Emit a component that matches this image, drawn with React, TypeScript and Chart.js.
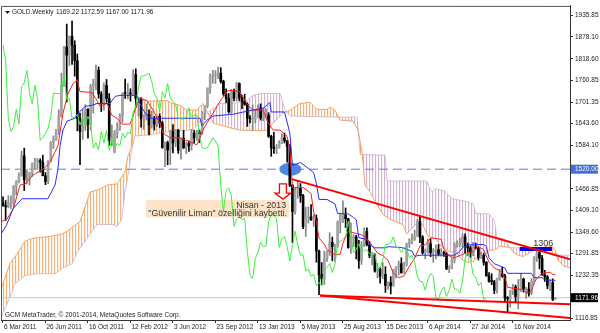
import React, { useEffect, useRef } from "react";
import { Chart, registerables } from "chart.js";

Chart.register(...registerables);

// ---- weekly candles (bar index 0 = 6 Mar 2011) ----
const opens = [1428,1421,1418,1429,1430,1474,1486,1504,1556,1491,1493,1511,1536,1542,1543,1539,1502,1486,1542,1593,1601,1627,1663,1744,1851,1829,1880,1856,1814,1657,1622,1636,1682,1642,1744,1754,1788,1724,1697,1747,1711,1598,1566,1617,1631,1664,1726,1725,1725,1724,1776,1711,1711,1657,1662,1668,1640,1658,1642,1663,1645,1578,1592,1572,1622,1591,1625,1571,1604,1578,1590,1584,1618,1605,1620,1616,1673,1692,1740,1772,1773,1776,1780,1758,1724,1712,1676,1730,1713,1752,1713,1704,1696,1658,1656,1656,1662,1686,1658,1667,1667,1609,1578,1576,1578,1591,1605,1597,1581,1476,1405,1462,1469,1448,1365,1386,1391,1383,1387,1298,1234,1223,1278,1295,1322,1310,1312,1377,1396,1396,1386,1308,1332,1337,1310,1272,1315,1352,1315,1287,1288,1244,1250,1230,1235,1205,1213,1204,1248,1254,1264,1240,1262,1318,1324,1330,1339,1379,1336,1294,1303,1318,1294,1300,1302,1290,1293,1292,1250,1252,1274,1316,1316,1320,1337,1310,1307,1294,1309,1306,1280,1287,1268,1231,1216,1215,1192,1222,1237,1231,1171,1169,1190,1201,1175,1191,1222,1195,1195,1184,1216,1277,1294,1279,1234,1228,1204,1213,1169.22];
const highs = [1445,1435,1448,1448,1476,1489,1510,1569,1577,1519,1512,1537,1550,1549,1548,1558,1511,1543,1595,1610,1628,1681,1780,1853,1913,1881,1921,1868,1832,1672,1682,1695,1684,1750,1764,1802,1797,1730,1754,1763,1725,1640,1625,1646,1670,1727,1764,1752,1738,1790,1792,1715,1714,1667,1697,1681,1677,1663,1665,1670,1650,1594,1596,1626,1641,1628,1628,1605,1625,1593,1597,1628,1625,1625,1626,1676,1692,1740,1778,1788,1787,1796,1795,1761,1738,1725,1736,1737,1755,1754,1720,1723,1700,1665,1694,1678,1694,1697,1685,1684,1673,1612,1620,1587,1597,1616,1618,1598,1587,1479,1470,1488,1481,1452,1417,1418,1424,1397,1396,1301,1267,1298,1298,1348,1336,1317,1380,1401,1434,1415,1387,1375,1343,1341,1327,1324,1361,1361,1324,1294,1291,1265,1254,1267,1256,1215,1229,1249,1256,1271,1280,1268,1320,1332,1345,1355,1384,1392,1340,1304,1331,1331,1305,1315,1316,1305,1298,1295,1258,1280,1321,1326,1333,1345,1345,1320,1312,1322,1320,1310,1296,1292,1270,1240,1237,1219,1225,1249,1255,1236,1175,1192,1208,1206,1221,1238,1225,1200,1213,1224,1283,1307,1300,1287,1246,1232,1220,1223,1172.59];
const lows = [1420,1381,1416,1413,1418,1450,1483,1501,1462,1480,1477,1500,1521,1522,1512,1505,1478,1481,1540,1576,1598,1614,1661,1744,1702,1801,1804,1772,1624,1532,1601,1625,1604,1626,1672,1735,1712,1676,1680,1701,1585,1583,1564,1604,1625,1647,1712,1710,1704,1721,1688,1664,1634,1628,1653,1613,1631,1626,1635,1633,1577,1527,1532,1533,1564,1581,1563,1547,1576,1562,1568,1572,1591,1598,1592,1614,1654,1686,1725,1753,1752,1765,1753,1720,1700,1672,1672,1705,1705,1705,1684,1693,1636,1645,1625,1645,1661,1653,1651,1660,1606,1555,1563,1562,1577,1589,1591,1539,1473,1321,1398,1441,1430,1359,1338,1374,1381,1365,1268,1180,1207,1208,1270,1286,1272,1270,1307,1347,1375,1362,1306,1292,1311,1277,1251,1262,1310,1312,1280,1261,1241,1226,1211,1223,1186,1195,1182,1203,1225,1233,1238,1238,1258,1308,1318,1327,1338,1321,1290,1277,1292,1283,1268,1277,1285,1284,1284,1248,1240,1250,1266,1309,1310,1310,1292,1287,1281,1286,1304,1274,1278,1260,1230,1214,1207,1183,1184,1219,1227,1160,1131,1146,1180,1161,1142,1188,1187,1170,1176,1180,1210,1270,1250,1232,1216,1196,1191,1164,1167.0];
const closes = [1421,1418,1429,1430,1474,1486,1504,1556,1491,1493,1511,1536,1542,1543,1539,1502,1486,1542,1593,1601,1627,1663,1744,1851,1829,1880,1856,1814,1657,1622,1636,1682,1642,1744,1754,1788,1724,1697,1747,1711,1598,1606,1617,1631,1664,1726,1725,1725,1724,1776,1711,1711,1657,1662,1668,1640,1658,1642,1663,1645,1578,1592,1572,1622,1591,1625,1571,1604,1578,1590,1584,1618,1605,1620,1616,1673,1692,1740,1772,1773,1776,1780,1758,1724,1712,1676,1730,1713,1752,1713,1704,1696,1658,1656,1656,1662,1686,1658,1667,1667,1609,1578,1576,1578,1591,1605,1597,1581,1476,1405,1462,1469,1448,1365,1386,1391,1383,1387,1298,1234,1223,1278,1295,1322,1310,1312,1377,1396,1396,1386,1308,1332,1337,1310,1272,1315,1352,1315,1287,1288,1244,1250,1230,1235,1205,1213,1204,1248,1254,1264,1240,1262,1318,1324,1330,1339,1379,1336,1294,1303,1318,1294,1300,1302,1290,1293,1292,1250,1252,1274,1316,1316,1320,1337,1310,1307,1294,1309,1306,1280,1287,1268,1231,1216,1215,1192,1222,1237,1231,1171,1169,1190,1201,1175,1191,1222,1195,1195,1184,1216,1277,1294,1279,1234,1228,1204,1213,1167,1171.96];

// ---- axis ticks ----
const tickBars = [0,16,32,48,64,80,96,112,128,144,160,176,192];
const tickLabels = ["6 Mar 2011","26 Jun 2011","16 Oct 2011","12 Feb 2012","3 Jun 2012","23 Sep 2012","13 Jan 2013","5 May 2013","25 Aug 2013","15 Dec 2013","6 Apr 2014","27 Jul 2014","16 Nov 2014"];
const priceTicks = [1935.85,1878.10,1818.60,1760.85,1701.35,1643.60,1584.10,1520.00,1466.85,1409.10,1349.60,1291.85,1232.35,1171.96,1116.85];

// ---- Ichimoku lines: [bar index, price] ----
const tenkan = [[-0.75,1378],[1.4,1384],[3.9,1413],[6.4,1477],[8.3,1480],[11.3,1504],[15.1,1520],[17.7,1538],[20.7,1584],[22.6,1672],[24.5,1725],[26.4,1752],[27.9,1762],[29,1730],[33.5,1728],[35.4,1706],[36.5,1690],[39.2,1698],[41,1666],[42.9,1658],[44.8,1642],[47.8,1642],[49,1664],[50.5,1698],[51.6,1712],[54.2,1706],[56.5,1680],[59.1,1645],[60.2,1618],[62.9,1605],[66.6,1605],[69.3,1597],[73,1586],[74.2,1605],[75.3,1626],[76.8,1645],[79.1,1672],[81.7,1704],[84.7,1733],[86.6,1733],[89.2,1730],[91.1,1706],[92.2,1693],[94.1,1680],[97.9,1680],[99.8,1645],[101.7,1626],[104.3,1626],[106.9,1610],[108,1575],[109,1470],[113,1470],[115,1460],[116,1454],[117,1404],[118,1378],[119,1334],[121,1316],[122,1302],[125,1288],[127,1290],[128,1320],[130,1352],[135,1342],[137,1333],[139,1313],[141,1293],[143,1286],[145,1273],[147,1238],[149,1226],[151,1231],[153,1257],[155,1279],[157,1312],[159,1315],[161,1334],[165,1330],[166,1304],[168,1285],[170,1280],[172,1286],[174,1292],[177,1297],[179,1310],[181,1302],[183,1268],[185,1252],[187,1246],[189,1226],[190,1200],[196,1193],[197,1184],[199,1190],[200,1212],[201,1224],[203,1238],[206,1241],[207,1235],[208,1235]];
const kijun = [[-0.75,1344],[1.4,1370],[3.8,1413],[7.2,1440],[16.9,1440],[19.6,1477],[20.7,1520],[21.5,1584],[22.6,1626],[24.1,1650],[27.1,1658],[29,1677],[30.9,1690],[33.5,1693],[35.4,1698],[40.3,1698],[42.2,1717],[44,1720],[50.5,1720],[51.6,1698],[53.5,1672],[55.3,1658],[74.2,1658],[74.9,1637],[76.8,1653],[79.1,1664],[86.6,1669],[94.1,1680],[97.9,1685],[99.4,1693],[100.5,1701],[101,1675],[106,1675],[108,1618],[109,1530],[112,1538],[115,1522],[117,1510],[118,1482],[119,1438],[122,1438],[125,1426],[126,1400],[130,1399],[132,1389],[133,1383],[134,1334],[137,1330],[138,1316],[140,1307],[144,1307],[145,1310],[150,1308],[154,1298],[155,1284],[157,1287],[170,1287],[172,1297],[173,1308],[175,1315],[181,1316],[182,1311],[183,1280],[185,1264],[189,1252],[190,1238],[199,1238],[200,1226],[203,1226],[204,1220],[208,1219]];
const spanA = [[-0.75,1195],[2.6,1264],[5.3,1290],[8.3,1325],[11.3,1333],[17.7,1338],[22.2,1344],[24.1,1352],[29,1378],[32.8,1458],[36.5,1466],[39.2,1477],[42.9,1480],[45.9,1512],[47.1,1557],[48.2,1575],[49,1672],[51.6,1706],[55.3,1704],[61.7,1706],[64,1698],[66.6,1693],[69.3,1680],[73,1680],[75.3,1698],[79.1,1645],[85.5,1632],[89.2,1626],[96.8,1624],[99.8,1626],[101.7,1645],[105.4,1672],[108.1,1680],[111.8,1698],[115.6,1701],[118.2,1682],[122,1682],[123.1,1688],[125,1680],[126.1,1664],[126.9,1653],[131.8,1650],[133.7,1626],[135.2,1565],[136.3,1477],[138.2,1458],[140.8,1424],[143.1,1397],[145.7,1384],[150.6,1370],[152,1344],[154,1360],[156,1376],[158,1370],[160,1338],[163,1332],[165,1310],[167,1300],[169,1296],[171,1292],[173,1273],[175,1267],[177,1270],[179,1283],[181,1282],[183,1300],[185,1301],[187,1311],[191,1308],[192,1296],[194,1286],[196,1284],[198,1292],[200,1303],[203,1306],[205,1313],[207,1309],[208,1299],[209,1274],[211,1258],[213.5,1253]];
const spanB = [[-0.75,1118],[2.6,1173],[4.5,1210],[8.3,1232],[12.8,1237],[19.6,1237],[22.6,1253],[26,1264],[28.2,1298],[35.4,1370],[41.4,1370],[42.9,1365],[44.8,1386],[45.9,1458],[47.1,1504],[48.4,1570],[49.7,1610],[55.3,1613],[59.1,1618],[65.5,1624],[71.5,1626],[74.2,1650],[76.8,1672],[81.7,1698],[86.6,1698],[91.9,1706],[94.1,1720],[96.8,1725],[104.3,1725],[106.2,1680],[108.1,1664],[126.9,1661],[133.3,1661],[134.5,1560],[143.8,1558],[144.6,1488],[159.5,1488],[160.5,1470],[161.5,1459],[163,1467],[166.5,1460],[167.5,1451],[169,1440],[175,1432],[177,1426],[178,1400],[183,1399],[184,1389],[185,1383],[186,1334],[189,1330],[190,1316],[191,1307],[205,1308],[206,1298],[207,1287],[213.5,1287]];
const CHIKOU_SHIFT = 26;

// ---- drawn objects ----
const trendTop = [[108.8,1493],[213.5,1276]];
const trendLow1 = [[119.4,1178],[213.5,1154]];
const trendLow2 = [[119.4,1178],[213.5,1117]];
const level1306 = [[194.6,1304],[206.7,1304]];
const LEVEL_1520 = 1520.0;
const LAST_PRICE = 1171.96;
const X_MIN = -0.75, X_MAX = 213.5, Y_MIN = 1111.5, Y_MAX = 1962.3;
const ELLIPSE = { x: 108.2, y: 1520 };
const ARROW = { x: 105.4, top: 1480, tip: 1439 };
const NOTE = { x0: 53.8, x1: 107.7, top: 1437, bottom: 1389 };
const NOTE_LINES = ["Nisan - 2013", "\"Güvenilir Liman\" özelliğini kaybetti."];
const LABEL_1306 = { x: 203.4, y: 1318, text: "1306" };
const TITLE_SYMBOL = "GOLD.Weekly";
const TITLE_OHLC = "1169.22 1172.59 1167.00 1171.96";
const COPYRIGHT = "GCM MetaTrader, © 2001-2014, MetaQuotes Software Corp.";

const FONT = "'Liberation Sans', Arial, sans-serif";
const pts = (a: number[][]) => a.map(([x, y]) => ({ x, y }));

export default function App() {
  const ref = useRef<HTMLCanvasElement>(null);
  useEffect(() => {
    document.body.style.margin = "0";
    const canvas = ref.current!;
    const c2d = canvas.getContext("2d")!;
    const hatch = (strong: string, weak: string) => {
      const p = document.createElement("canvas");
      p.width = 3; p.height = 2;
      const g = p.getContext("2d")!;
      g.fillStyle = strong; g.fillRect(0, 0, 1, 2);
      g.fillStyle = weak; g.fillRect(1, 0, 1, 2);
      return c2d.createPattern(p, "repeat")!;
    };
    const orangeHatch = hatch("rgba(244,164,96,0.85)", "rgba(244,164,96,0.12)");
    const thistleHatch = hatch("rgba(200,160,200,0.8)", "rgba(216,191,216,0.15)");

    const idx = closes.map((_, i) => i);
    const bull = idx.map((i) => closes[i] >= opens[i]);
    const full = (v: number) => [{ x: X_MIN, y: v }, { x: X_MAX, y: v }];
    const chikou = idx.filter((i) => i - CHIKOU_SHIFT >= X_MIN).map((i) => ({ x: i - CHIKOU_SHIFT, y: closes[i] }));

    const lineDs = (label: string, data: any, color: string, width: number, order: number, extra: any = {}) => ({
      type: "line", label, data, borderColor: color, borderWidth: width, pointRadius: 0, pointHoverRadius: 0,
      tension: 0, fill: false, order, ...extra,
    });

    const DASH_INDEX = 2;
    const overlay = {
      id: "overlay",
      afterDatasetDraw(chart: any, args: any) {
        if (args.index !== DASH_INDEX) return;
        const { ctx, scales: { x, y } } = chart;
        ctx.save();
        ctx.fillStyle = "#4f86e3";
        ctx.beginPath();
        ctx.ellipse(x.getPixelForValue(ELLIPSE.x), y.getPixelForValue(ELLIPSE.y), 11, 6.5, 0, 0, Math.PI * 2);
        ctx.fill();
        ctx.restore();
      },
      beforeDatasetsDraw(chart: any) {
        const { ctx, scales: { x, y } } = chart;
        const bx0 = x.getPixelForValue(NOTE.x0), bx1 = x.getPixelForValue(NOTE.x1);
        const by0 = y.getPixelForValue(NOTE.top), by1 = y.getPixelForValue(NOTE.bottom);
        ctx.save();
        ctx.fillStyle = "#fde3c8";
        ctx.fillRect(bx0, by0, bx1 - bx0, by1 - by0);
        ctx.restore();
      },
      afterDatasetsDraw(chart: any) {
        const { ctx, scales: { x, y } } = chart;
        ctx.save();
        // note text
        const bx1 = x.getPixelForValue(NOTE.x1), by0 = y.getPixelForValue(NOTE.top);
        ctx.fillStyle = "#333";
        ctx.font = `8.8px ${FONT}`;
        ctx.textAlign = "right";
        ctx.textBaseline = "middle";
        ctx.fillText(NOTE_LINES[0], bx1 - 3, by0 + 5.5);
        ctx.fillText(NOTE_LINES[1], bx1 - 2, by0 + 13.8);
        // arrow
        const ax = x.getPixelForValue(ARROW.x), ay0 = y.getPixelForValue(ARROW.top), ay1 = y.getPixelForValue(ARROW.tip);
        const hy = ay1 - 6;
        ctx.beginPath();
        ctx.moveTo(ax - 3.5, ay0); ctx.lineTo(ax + 3.5, ay0); ctx.lineTo(ax + 3.5, hy); ctx.lineTo(ax + 8, hy);
        ctx.lineTo(ax, ay1); ctx.lineTo(ax - 8, hy); ctx.lineTo(ax - 3.5, hy); ctx.closePath();
        ctx.fillStyle = "#ffffff"; ctx.fill();
        ctx.strokeStyle = "#ff0000"; ctx.lineWidth = 1.3; ctx.stroke();
        // 1306 label
        ctx.fillStyle = "#333";
        ctx.font = `9px ${FONT}`;
        ctx.textAlign = "center";
        ctx.fillText(LABEL_1306.text, x.getPixelForValue(LABEL_1306.x), y.getPixelForValue(LABEL_1306.y));
        ctx.restore();
      },
      afterDraw(chart: any) {
        const { ctx, chartArea: a, scales: { y } } = chart;
        ctx.save();
        ctx.strokeStyle = "#555";
        ctx.lineWidth = 1;
        ctx.beginPath();
        ctx.moveTo(a.left + 0.5, a.bottom); ctx.lineTo(a.left + 0.5, a.top + 0.5); ctx.lineTo(a.right, a.top + 0.5);
        ctx.stroke();
        // price boxes
        ctx.font = `6.5px ${FONT}`;
        ctx.textBaseline = "middle";
        ctx.textAlign = "left";
        const boxes = [{ v: LEVEL_1520, bg: "#3f6fd8" }, { v: LAST_PRICE, bg: "#000000" }];
        for (const b of boxes) {
          const py = y.getPixelForValue(b.v);
          ctx.fillStyle = b.bg;
          ctx.fillRect(a.right + 1, py - 4.5, 27, 9);
          ctx.fillStyle = "#ffffff";
          ctx.fillText(b.v.toFixed(2), a.right + 5, py + 0.5);
        }
        // title
        ctx.fillStyle = "#222";
        ctx.beginPath();
        ctx.moveTo(a.left + 4, a.top + 5); ctx.lineTo(a.left + 9, a.top + 5); ctx.lineTo(a.left + 6.5, a.top + 8);
        ctx.closePath(); ctx.fill();
        ctx.font = `6.5px ${FONT}`;
        ctx.fillText(TITLE_SYMBOL, a.left + 11, a.top + 6.5);
        ctx.fillText(TITLE_OHLC, a.left + 55, a.top + 6.5);
        ctx.fillText(COPYRIGHT, a.left + 4, a.bottom - 5);
        ctx.restore();
      },
    };

    const chart = new Chart(canvas, {
      type: "bar",
      data: {
        datasets: [
          lineDs("Senkou A", pts(spanA), "#f4a460", 1, 10, { fill: { target: 1, above: orangeHatch, below: thistleHatch } }),
          lineDs("Senkou B", pts(spanB), "#d8bfd8", 1, 10),
          lineDs("1520", full(LEVEL_1520), "#5a7fd8", 1, 8, { borderDash: [9, 5] }),
          lineDs("last", full(LAST_PRICE), "#c8c8c8", 1, 9),
          {
            type: "bar", label: "wicks", data: idx.map((i) => ({ x: i, y: [lows[i], highs[i]] })),
            backgroundColor: idx.map((i) => (bull[i] ? "#858585" : "#000000")),
            barThickness: 1, grouped: false, borderWidth: 0, order: 6,
          },
          {
            type: "bar", label: "bodies", data: idx.map((i) => ({ x: i, y: [opens[i], closes[i]] })),
            backgroundColor: idx.map((i) => (bull[i] ? "#a3a3a3" : "#000000")),
            barThickness: 2, grouped: false, borderWidth: 0, minBarLength: 1, order: 5,
          },
          lineDs("Chikou", chikou, "#3cf03c", 1, 3),
          lineDs("Kijun", pts(kijun), "#2a2aff", 1, 3),
          lineDs("Tenkan", pts(tenkan), "#ff2020", 1, 3),
          lineDs("trend top", pts(trendTop), "#ff0000", 2, 1),
          lineDs("trend low 1", pts(trendLow1), "#ff0000", 2, 1),
          lineDs("trend low 2", pts(trendLow2), "#ff0000", 2, 1),
          lineDs("1306", pts(level1306), "#0000ee", 4, 1),
        ] as any,
      },
      options: {
        animation: false,
        responsive: false,
        devicePixelRatio: 1,
        layout: { padding: { left: 1, top: 1, right: 0, bottom: 0 } },
        plugins: { legend: { display: false }, tooltip: { enabled: false } },
        events: [],
        scales: {
          x: {
            type: "linear", min: X_MIN, max: X_MAX, offset: false,
            grid: { display: true, drawOnChartArea: false, drawTicks: true, tickLength: 3, color: "#333", offset: false },
            border: { display: true, color: "#333" },
            ticks: {
              autoSkip: false, maxRotation: 0, align: "start", labelOffset: 1, padding: 0, color: "#222",
              font: { size: 6.5, family: FONT },
              callback: (v: any) => { const k = tickBars.indexOf(Number(v)); return k >= 0 ? tickLabels[k] : ""; },
            },
            afterBuildTicks: (s: any) => { s.ticks = tickBars.map((v) => ({ value: v })); },
            afterFit: (s: any) => { s.height = 13; },
          },
          y: {
            type: "linear", position: "right", min: Y_MIN, max: Y_MAX, beginAtZero: false,
            grid: { display: true, drawOnChartArea: false, drawTicks: true, tickLength: 3, color: "#333" },
            border: { display: true, color: "#333" },
            ticks: {
              autoSkip: false, padding: 2, color: "#222", font: { size: 6.5, family: FONT },
              callback: (v: any) => Number(v).toFixed(2),
            },
            afterBuildTicks: (s: any) => { s.ticks = priceTicks.map((v) => ({ value: v })); },
            afterFit: (s: any) => { s.width = 30; },
          },
        },
      } as any,
      plugins: [overlay],
    });
    return () => chart.destroy();
  }, []);
  return (
    <div style={{ width: 600, height: 333 }}>
      <canvas ref={ref} width={600} height={333} style={{ display: "block", width: 600, height: 333 }} />
    </div>
  );
}
